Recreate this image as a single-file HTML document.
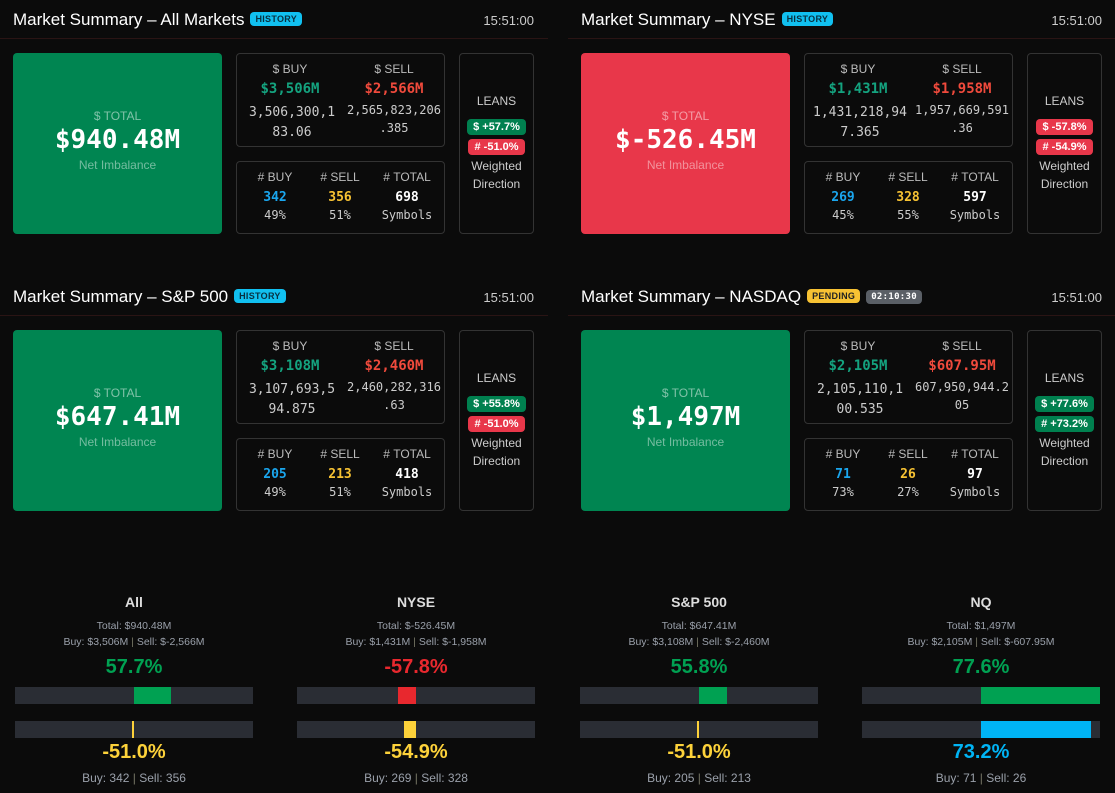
<!DOCTYPE html>
<html><head><meta charset="utf-8"><style>
*{box-sizing:border-box;margin:0;padding:0}
body{width:1115px;height:793px;background:#0b0b0b;font-family:"Liberation Sans",sans-serif;color:#ddd;position:relative;overflow:hidden}
.abs{position:absolute}
.title{font-size:17px;color:#fff;font-weight:500;white-space:nowrap}
.badge{display:inline-block;font-size:9px;font-weight:bold;padding:2px 5px;border-radius:4px;vertical-align:3px;margin-left:6px;letter-spacing:.3px}
.time{font-size:13px;color:#ccc}
.sep{height:1px;background:#2a1414}
.box{border:1px solid #333;border-radius:4px}
.mono{font-family:"DejaVu Sans Mono","Liberation Mono",monospace}
.c{text-align:center}
.pill{display:inline-block;font-size:11px;font-weight:bold;color:#fff;border-radius:4px;padding:0 6px;height:16px;line-height:16px}
.track{background:#2a2d34;height:17px}
</style></head><body>
<div id="root"></div>
<script>
const names=['All Markets','NYSE','S&P 500','NASDAQ'];
const shortNames=['All','NYSE','S&P 500','NQ'];
const totals=['$940.48M','$-526.45M','$647.41M','$1,497M'];
const totalPos=[true,false,true,true];
const buyM=['$3,506M','$1,431M','$3,108M','$2,105M'];
const sellM=['$2,566M','$1,958M','$2,460M','$607.95M'];
const buyFull=['3,506,300,183.06','1,431,218,947.365','3,107,693,594.875','2,105,110,100.535'];
const sellFull=['2,565,823,206.385','1,957,669,591.36','2,460,282,316.63','607,950,944.205'];
const buyVals=[3506.3,1431.2,3107.7,2105.1];
const sellVals=[2565.8,1957.7,2460.3,607.95];
const buyCnt=[342,269,205,71];
const sellCnt=[356,328,213,26];
const leanD=[57.7,-57.8,55.8,77.6];
const leanN=[-51.0,-54.9,-51.0,73.2];
const sellNeg=['$-2,566M','$-1,958M','$-2,460M','$-607.95M'];

const root=document.getElementById('root');
function wrapFull(s,n){return s.slice(0,n)+'<br>'+s.slice(n);}
for(let i=0;i<4;i++){
  const ox=(i%2)*568, oy=Math.floor(i/2)*277;
  const p=document.createElement('div');p.className='abs';p.style.left=ox+'px';p.style.top=oy+'px';p.style.width='548px';p.style.height='240px';
  
  
  const tc=buyCnt[i]+sellCnt[i];
  const badge=i==3?'<span class="badge" style="background:#f7c233;color:#222">PENDING</span><span class="badge mono" style="background:#5a5f66;color:#fff">02:10:30</span>':'<span class="badge" style="background:#11c0f0;color:#083040">HISTORY</span>';
  const bl=i==1?12:11;
  p.innerHTML=`
  <div class="abs title" style="left:13px;top:10px">Market Summary – ${names[i]}${badge}</div>
  <div class="abs time" style="right:14px;top:13px">15:51:00</div>
  <div class="abs sep" style="left:0;top:38px;width:548px"></div>
  <div class="abs c" style="left:13px;top:53px;width:209px;height:181px;border-radius:4px;background:${totalPos[i]?'#008551':'#e8374a'}">
    <div style="margin-top:56px;font-size:12px;color:rgba(255,255,255,.5)">$ TOTAL</div>
    <div class="mono" style="font-size:26px;font-weight:bold;color:#fff;margin-top:2px">${totals[i]}</div>
    <div style="font-size:12px;color:rgba(255,255,255,.45);margin-top:3px">Net Imbalance</div></div>
  <div class="abs box" style="left:236px;top:53px;width:209px;height:94px">
    <div class="abs c" style="left:0;top:8px;width:106px;font-size:12px;color:#bbb">$ BUY</div>
    <div class="abs c" style="left:104px;top:8px;width:106px;font-size:12px;color:#bbb">$ SELL</div>
    <div class="abs c mono" style="left:0;top:27px;width:106px;font-size:14px;font-weight:bold;color:#14a37f">${buyM[i]}</div>
    <div class="abs c mono" style="left:104px;top:27px;width:106px;font-size:14px;font-weight:bold;color:#f04a3c">${sellM[i]}</div>
    <div class="abs c mono" style="left:2px;top:49px;width:106px;font-size:13px;line-height:20px;color:#ccc">${wrapFull(buyFull[i],bl)}</div>
    <div class="abs c mono" style="left:104px;top:47px;width:106px;font-size:12px;line-height:18px;color:#ccc">${wrapFull(sellFull[i],13)}</div>
  </div>
  <div class="abs box" style="left:236px;top:161px;width:209px;height:73px">
    <div class="abs c" style="left:5px;top:8px;width:66px;font-size:12px;color:#bbb">#&nbsp;BUY</div>
    <div class="abs c" style="left:70px;top:8px;width:66px;font-size:12px;color:#bbb">#&nbsp;SELL</div>
    <div class="abs c" style="left:133px;top:8px;width:74px;font-size:12px;color:#bbb">#&nbsp;TOTAL</div>
    <div class="abs c mono" style="left:5px;top:28px;width:66px;font-size:13px;font-weight:bold;color:#1aa6ee">${buyCnt[i]}</div>
    <div class="abs c mono" style="left:70px;top:28px;width:66px;font-size:13px;font-weight:bold;color:#f7c233">${sellCnt[i]}</div>
    <div class="abs c mono" style="left:133px;top:28px;width:74px;font-size:13px;font-weight:bold;color:#fff">${tc}</div>
    <div class="abs c mono" style="left:5px;top:46px;width:66px;font-size:12px;color:#ccc">${Math.round(buyCnt[i]/tc*100)}%</div>
    <div class="abs c mono" style="left:70px;top:46px;width:66px;font-size:12px;color:#ccc">${Math.round(sellCnt[i]/tc*100)}%</div>
    <div class="abs c mono" style="left:133px;top:46px;width:74px;font-size:12px;color:#ccc">Symbols</div>
  </div>
  <div class="abs box c" style="left:459px;top:53px;width:75px;height:181px">
    <div class="abs" style="left:0;top:40px;width:73px;font-size:12px;color:#ccc">LEANS</div>
    <div class="abs" style="left:0;top:63px;width:73px"><span class="pill" style="background:${leanD[i]>=0?'#00804f':'#e8374a'}">$ ${leanD[i]>=0?'+':''}${leanD[i].toFixed(1)}%</span></div>
    <div class="abs" style="left:0;top:83px;width:73px"><span class="pill" style="background:${leanN[i]>=0?'#00804f':'#e8374a'}"># ${leanN[i]>=0?'+':''}${leanN[i].toFixed(1)}%</span></div>
    <div class="abs" style="left:0;top:103px;width:73px;font-size:12px;color:#ccc;line-height:18px">Weighted<br>Direction</div>
  </div>`;
  root.appendChild(p);
}
const gx=[15,297,580,862];
const TW=238, HALF=119;
function barW(f){return f>=0?Math.min(f*TW,HALF):Math.min(-f*HALF,HALF);}
for(let i=0;i<4;i++){
  const x=gx[i];
  const g=document.createElement('div');g.className='abs';g.style.left=x+'px';g.style.top='590px';g.style.width=TW+'px';g.style.height='200px';
  
  
  const tot=buyVals[i]-sellVals[i];
  const fd=tot/(buyVals[i]+sellVals[i]);
  const fn=(buyCnt[i]-sellCnt[i])/(buyCnt[i]+sellCnt[i]);
  const wd=barW(fd), wn=barW(fn);
  const cd=fd>=0?'#00a152':'#e8282e';
  const cn=fn>=0?'#00b4f5':'#fdd23a';
  const dl=fd>=0?HALF:HALF-wd, nl=fn>=0?HALF:HALF-Math.max(wn,2);
  g.innerHTML=`
  <div class="abs c" style="left:0;top:4px;width:${TW}px;font-size:14px;font-weight:bold;color:#ddd">${shortNames[i]}</div>
  <div class="abs c" style="left:0;top:30px;width:${TW}px;font-size:10.5px;color:#9aa0aa">Total: ${totals[i]}</div>
  <div class="abs c" style="left:0;top:46px;width:${TW}px;font-size:10.5px;color:#9aa0aa">Buy: ${buyM[i]} <span style="color:#776">|</span> Sell: ${sellNeg[i]}</div>
  <div class="abs c" style="left:0;top:66px;width:${TW}px;font-size:20px;font-weight:bold;color:${leanD[i]>=0?'#00a152':'#e8282e'}">${leanD[i].toFixed(1)}%</div>
  <div class="abs track" style="left:0;top:97px;width:${TW}px"><div class="abs" style="left:${dl}px;top:0;width:${wd}px;height:17px;background:${cd}"></div></div>
  <div class="abs track" style="left:0;top:131px;width:${TW}px"><div class="abs" style="left:${nl}px;top:0;width:${Math.max(wn,2)}px;height:17px;background:${cn}"></div></div>
  <div class="abs c" style="left:0;top:151px;width:${TW}px;font-size:20px;font-weight:bold;color:${cn}">${leanN[i].toFixed(1)}%</div>
  <div class="abs c" style="left:0;top:181px;width:${TW}px;font-size:12px;color:#9aa0aa">Buy: ${buyCnt[i]} <span style="color:#776">|</span> Sell: ${sellCnt[i]}</div>`;
  document.body.appendChild(g);
}
</script>
</body></html>
